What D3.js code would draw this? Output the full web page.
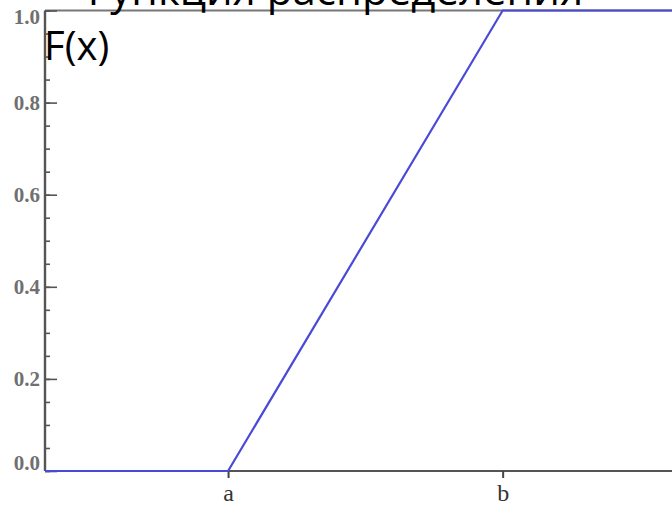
<!DOCTYPE html>
<html>
<head>
<meta charset="utf-8">
<script src="https://cdn.jsdelivr.net/npm/d3@7"></script>
<style>
  html, body { margin: 0; padding: 0; background: #fff; }
  svg { display: block; }
</style>
</head>
<body>
<svg id="chart" width="672" height="505"></svg>
<script>
// Uniform distribution CDF on [a, b]
const xPoints = [0, 2, 5, 6.85];
const fValues = [0, 0, 1, 1];
const xTickValues = [2, 5];
const xTickLabels = ["a", "b"];
const yMajorTicks = [0, 0.2, 0.4, 0.6, 0.8, 1.0];
const yMinorTicks = d3.range(0, 1.0001, 0.05);
const titleText = "Функция распределения";
const yLabelText = "F(x)";

const svg = d3.select("#chart");
const plotLeft = 45, plotRight = 672, plotTop = 10.5, plotBottom = 471;

const x = d3.scaleLinear().domain([0, 6.85]).range([plotLeft, plotRight]);
const y = d3.scaleLinear().domain([0, 1]).range([plotBottom, plotTop]);

const axisColor = "#555";

// frame lines: top and bottom
svg.append("line").attr("x1", plotLeft).attr("x2", plotRight).attr("y1", plotTop).attr("y2", plotTop)
  .attr("stroke", "#777").attr("stroke-width", 2);
svg.append("line").attr("x1", plotLeft).attr("x2", plotRight).attr("y1", plotBottom).attr("y2", plotBottom)
  .attr("stroke", axisColor).attr("stroke-width", 2);

// y axis: minor ticks, then major ticks with labels
const yMinor = svg.append("g").attr("transform", `translate(${plotLeft},0)`)
  .call(d3.axisRight(y).tickValues(yMinorTicks).tickSize(5).tickFormat(""));
yMinor.select(".domain").remove();
yMinor.selectAll("line").attr("stroke", axisColor).attr("stroke-width", 1.6);

const yMajor = svg.append("g").attr("transform", `translate(${plotLeft},0)`)
  .call(d3.axisRight(y).tickValues(yMajorTicks).tickSize(12).tickFormat(d3.format(".1f")));
yMajor.select(".domain").attr("stroke", axisColor).attr("stroke-width", 2.4)
  .attr("d", `M0,${plotTop}V${plotBottom}`);
yMajor.selectAll("line").attr("stroke", axisColor).attr("stroke-width", 1.6);
yMajor.selectAll("text")
  .attr("x", -5)
  .attr("text-anchor", "end")
  .attr("font-family", "Liberation Serif, Times New Roman, serif")
  .attr("font-size", 21)
  .attr("font-weight", "bold")
  .attr("fill", "#707070")
  .attr("dy", d => d === 0 ? "-0.05em" : (d === 1 ? "0.6em" : "0.32em"));

// x axis ticks at a and b
const xAxis = svg.append("g").attr("transform", `translate(0,${plotBottom})`)
  .call(d3.axisBottom(x).tickValues(xTickValues).tickSize(7)
    .tickFormat((d, i) => xTickLabels[i]));
xAxis.select(".domain").remove();
xAxis.selectAll("line").attr("stroke", "#444").attr("stroke-width", 2);
xAxis.selectAll("text")
  .attr("y", 13)
  .attr("font-family", "Liberation Serif, Times New Roman, serif")
  .attr("font-size", 24)
  .attr("fill", "#333");

// CDF line
const line = d3.line().x((d, i) => x(xPoints[i])).y(d => y(d));
svg.append("path").datum(fValues)
  .attr("d", line)
  .attr("fill", "none")
  .attr("stroke", "#4a4ad8")
  .attr("stroke-width", 2.2);

// Title (running off the top edge) and axis label
svg.append("text").attr("x", 330).attr("y", 5)
  .attr("text-anchor", "middle")
  .attr("font-family", "Open Sans, Noto Sans, sans-serif")
  .attr("font-size", 42)
  .attr("fill", "#000")
  .text(titleText);

svg.append("text").attr("x", 44).attr("y", 60)
  .attr("font-family", "Open Sans, Noto Sans, sans-serif")
  .attr("font-size", 40)
  .attr("fill", "#000")
  .text(yLabelText);
</script>
</body>
</html>
